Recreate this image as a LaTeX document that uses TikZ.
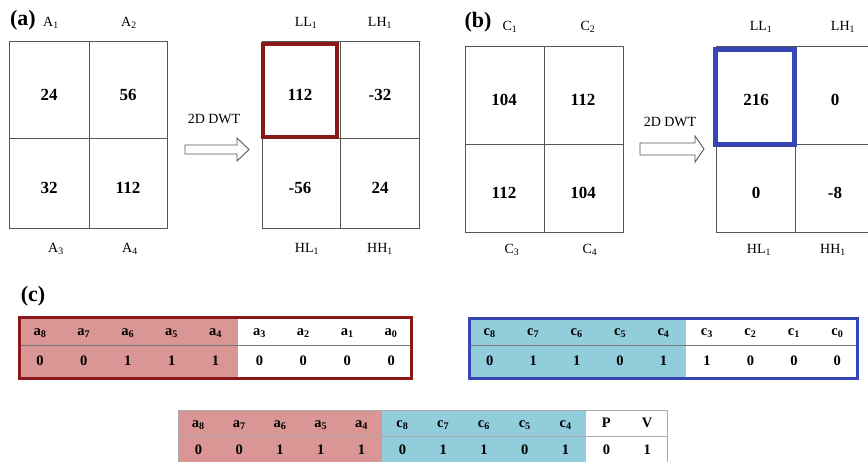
\documentclass[tikz,border=0pt]{standalone}
\usepackage{fontspec}
\setmainfont{Liberation Serif}
\definecolor{boxred}{RGB}{140,25,25}
\definecolor{fillpink}{RGB}{217,150,148}
\definecolor{boxblue}{RGB}{55,70,180}
\definecolor{fillblue}{RGB}{146,205,220}
\definecolor{gridgray}{RGB}{85,85,85}
\definecolor{lightgray}{RGB}{170,170,170}
\begin{document}
\begin{tikzpicture}[x=1pt,y=-1pt,
  gridline/.style={draw=gridgray,line width=1pt},
  num/.style={font=\fontsize{17}{20}\selectfont\bfseries,inner sep=0pt},
  lab/.style={font=\fontsize{14}{16}\selectfont,inner sep=0pt},
  panel/.style={font=\fontsize{22}{24}\selectfont\bfseries,inner sep=0pt},
  tab/.style={font=\fontsize{14.5}{16}\selectfont\bfseries,inner sep=0pt},
  blockarrow/.style={draw=gridgray,fill=white,line width=0.9pt,line join=miter}]
\useasboundingbox (0,0) rectangle (868,462);
\begin{scope}
\clip (0,0) rectangle (868,462);

% ---------- (a) ----------
\node[panel] (pa) at (23,20) {(a)};
% input block
\draw[gridline] (9.5,42) rectangle (167,229);
\draw[gridline] (89,42) -- (89,229);
\draw[gridline] (9.5,139) -- (167,139);
\node[lab] (A1) at (51,23) {A\textsubscript{1}};
\node[lab] (A2) at (129,23) {A\textsubscript{2}};
\node[lab] (A3) at (56,249) {A\textsubscript{3}};
\node[lab] (A4) at (130,249) {A\textsubscript{4}};
\node[num] (a11) at (49,95) {24};
\node[num] (a12) at (128,95) {56};
\node[num] (a21) at (49,188) {32};
\node[num] (a22) at (128,188) {112};
% transform arrow
\node[lab] (dwta) at (214,118.5) {2D DWT};
\draw[blockarrow] (185,145) -- (237,145) -- (237,138) -- (249,149.5)
  -- (237,161) -- (237,154) -- (185,154) -- cycle;
% sub-bands
\draw[gridline] (262,42) rectangle (419,229);
\draw[gridline] (340,42) -- (340,229);
\draw[gridline] (262,139) -- (419,139);
\node[lab] (LLa) at (306,23) {LL\textsubscript{1}};
\node[lab] (LHa) at (380,23) {LH\textsubscript{1}};
\node[lab] (HLa) at (307,249) {HL\textsubscript{1}};
\node[lab] (HHa) at (380,249) {HH\textsubscript{1}};
\draw[boxred,line width=4pt] (263,44) rectangle (337,137);
\node[num] (s11) at (300,95) {112};
\node[num] (s12) at (380,95) {-32};
\node[num] (s21) at (300,188) {-56};
\node[num] (s22) at (380,188) {24};

% ---------- (b) ----------
\node[panel] (pb) at (478,22) {(b)};
\draw[gridline] (465,47) rectangle (623,233);
\draw[gridline] (544,47) -- (544,233);
\draw[gridline] (465,145) -- (623,145);
\node[lab] (C1) at (510,27) {C\textsubscript{1}};
\node[lab] (C2) at (588,27) {C\textsubscript{2}};
\node[lab] (C3) at (512,250) {C\textsubscript{3}};
\node[lab] (C4) at (590,250) {C\textsubscript{4}};
\node[num] (c11) at (504,100) {104};
\node[num] (c12) at (583,100) {112};
\node[num] (c21) at (504,193) {112};
\node[num] (c22) at (583,193) {104};
\node[lab] (dwtb) at (670,122) {2D DWT};
\draw[blockarrow] (640,143) -- (695,143) -- (695,136) -- (704,149)
  -- (695,162) -- (695,155) -- (640,155) -- cycle;
\draw[gridline] (716,47) rectangle (874,233);
\draw[gridline] (795,47) -- (795,233);
\draw[gridline] (716,145) -- (874,145);
\node[lab] (LLb) at (761,27) {LL\textsubscript{1}};
\node[lab] (LHb) at (843,27) {LH\textsubscript{1}};
\node[lab] (HLb) at (759,250) {HL\textsubscript{1}};
\node[lab] (HHb) at (833,250) {HH\textsubscript{1}};
\draw[boxblue,line width=5pt] (715.5,49.5) rectangle (794.5,144.5);
\node[num] (t11) at (756,100) {216};
\node[num] (t12) at (835,100) {0};
\node[num] (t21) at (756,193) {0};
\node[num] (t22) at (835,193) {-8};

% ---------- (c) ----------
\node[panel] (pc) at (33,296) {(c)};
% bits of the LL1 value 112
\fill[fillpink] (18,316) rectangle (237.5,380);
\draw[gridgray!80,line width=0.8pt] (18,345) -- (413,345);
\foreach \b [count=\i from 0] in {0,0,1,1,1,0,0,0,0} {
  \pgfmathsetmacro{\xc}{18+43.9*(\i+0.5)}
  \pgfmathtruncatemacro{\k}{8-\i}
  \node[tab] (ah\i) at (\xc,333) {a\textsubscript{\k}};
  \node[tab] (av\i) at (\xc,361) {\b};
}
\draw[boxred,line width=3pt] (19.5,317.5) rectangle (411.5,378.5);
% bits of the LL1 value 216
\fill[fillblue] (468,317) rectangle (685.5,380);
\draw[gridgray!80,line width=0.8pt] (468,345) -- (859,345);
\foreach \b [count=\i from 0] in {0,1,1,0,1,1,0,0,0} {
  \pgfmathsetmacro{\xc}{468+43.45*(\i+0.5)}
  \pgfmathtruncatemacro{\k}{8-\i}
  \node[tab] (ch\i) at (\xc,333) {c\textsubscript{\k}};
  \node[tab] (cv\i) at (\xc,361) {\b};
}
\draw[boxblue,line width=3pt] (469.5,318.5) rectangle (857.5,378.5);
% combined word
\fill[fillpink] (178,410) rectangle (382,466);
\fill[fillblue] (382,410) rectangle (586,466);
\draw[lightgray,line width=0.9pt] (178,410) rectangle (667,466);
\draw[lightgray,line width=0.9pt] (178,436) -- (667,436);
\foreach \b [count=\i from 0] in {0,0,1,1,1} {
  \pgfmathsetmacro{\xc}{178+40.8*(\i+0.5)}
  \pgfmathtruncatemacro{\k}{8-\i}
  \node[tab] (wa\i) at (\xc,425) {a\textsubscript{\k}};
  \node[tab] (wav\i) at (\xc,450) {\b};
}
\foreach \b [count=\i from 0] in {0,1,1,0,1} {
  \pgfmathsetmacro{\xc}{382+40.8*(\i+0.5)}
  \pgfmathtruncatemacro{\k}{8-\i}
  \node[tab] (wc\i) at (\xc,425) {c\textsubscript{\k}};
  \node[tab] (wcv\i) at (\xc,450) {\b};
}
\node[tab] (wp) at (606.4,423) {P};
\node[tab] (wv) at (647.2,423) {V};
\node[tab] (wpv) at (606.4,450) {0};
\node[tab] (wvv) at (647.2,450) {1};
\end{scope}
\end{tikzpicture}
\end{document}
